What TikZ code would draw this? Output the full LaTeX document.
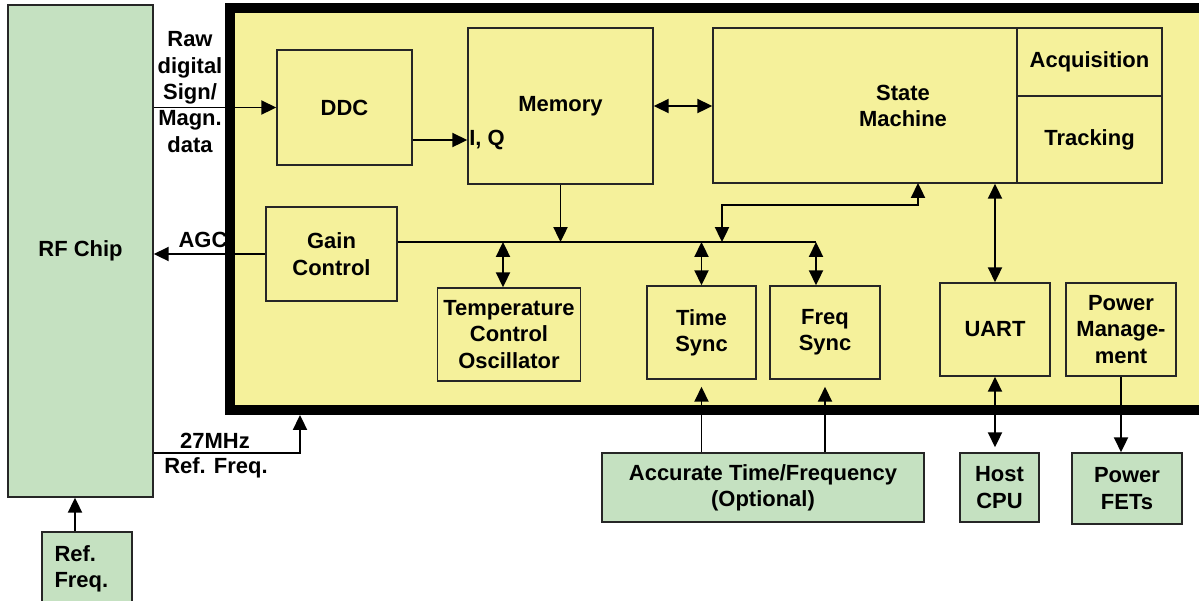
\documentclass[tikz,border=0pt]{standalone}
\usepackage{fontspec}
\setmainfont{Liberation Sans}
\usetikzlibrary{arrows.meta}
\definecolor{chipyellow}{HTML}{F5F19B}
\definecolor{extgreen}{HTML}{C5E1C1}
\tikzstyle{blk} = [rectangle, draw=black!85, line width=0.9pt, fill=chipyellow, align=center, font=\fontsize{12.5}{15}\selectfont\bfseries]
\tikzstyle{ext} = [blk, fill=extgreen]
\tikzstyle{lbl} = [align=center, font=\fontsize{12.5}{15}\selectfont\bfseries, inner sep=1pt]
\tikzstyle{wire} = [line width=1.1pt]
\tikzstyle{arrow} = [wire, -{Triangle[length=8.5pt,width=8pt]}]
\tikzstyle{dblarrow} = [wire, {Triangle[length=8.5pt,width=8pt]}-{Triangle[length=8.5pt,width=8pt]}]
\begin{document}
\begin{tikzpicture}[x=0.02cm, y=-0.02cm]
  \useasboundingbox (0,0) rectangle (1199,600);
  \draw [line width=0.2cm, fill=chipyellow] (230,8) rectangle (1204,410);
  \coordinate (clk) at (300,415);

  \node (rf)[ext, minimum width=2.9cm, minimum height=9.84cm] at (80.5,251) {RF Chip};
  \node (ref)[ext, minimum width=1.8cm, minimum height=1.48cm, text width=1.3cm, align=left] at (87,569) {Ref.\\Freq.};
  \node (ddc)[blk, minimum width=2.7cm, minimum height=2.3cm] at (344.5,107.5) {DDC};
  \node (memory)[blk, minimum width=3.7cm, minimum height=3.12cm] at (560.5,106) {Memory};
  \node (sm)[blk, minimum width=6.08cm, minimum height=3.1cm] at (865,105.5) {};
  \node (smtxt)[lbl] at (903,106) {State\\Machine};
  \node (acq)[blk, minimum width=2.9cm, minimum height=1.36cm] at (1089.5,62) {Acquisition};
  \node (trk)[blk, minimum width=2.9cm, minimum height=1.74cm] at (1089.5,139.5) {Tracking};
  \node (gain)[blk, minimum width=2.62cm, minimum height=1.88cm] at (331.5,254) {Gain\\Control};
  \node (tco)[blk, minimum width=2.84cm, minimum height=1.86cm] at (509,334.5) {Temperature\\Control\\Oscillator};
  \node (tsync)[blk, minimum width=2.18cm, minimum height=1.86cm] at (701.5,332.5) {Time\\Sync};
  \node (fsync)[blk, minimum width=2.2cm, minimum height=1.86cm] at (825,332.5) {Freq\\Sync};
  \node (uart)[blk, minimum width=2.2cm, minimum height=1.86cm] at (995,329.5) {UART};
  \node (pm)[blk, minimum width=2.2cm, minimum height=1.86cm] at (1121,329.5) {Power\\Manage-\\ment};
  \node (host)[ext, minimum width=1.58cm, minimum height=1.38cm] at (999.5,487.5) {Host\\CPU};
  \node (fets)[ext, minimum width=2.2cm, minimum height=1.42cm] at (1127,488.5) {Power\\FETs};
  \node (acc)[ext, minimum width=6.44cm, minimum height=1.38cm] at (763,487.5) {Accurate Time/Frequency\\(Optional)};

  \node (raw)[lbl] at (190,92) {Raw\\digital\\Sign/\\Magn.\\data};
  \node (iq)[lbl, anchor=west] at (memory.west |- 0,140) {I, Q};
  \node (agc)[lbl] at (203,240) {AGC};
  \node (mhz)[lbl] at (215,441) {27MHz};
  \node (rfreq)[lbl] at (216,468) {Ref. Freq.};

  \coordinate (busL) at (gain.east |- 0,242);
  \coordinate (busR) at ([xshift=-0.18cm]fsync.north |- busL);
  \coordinate (busT) at (722,242);
  \coordinate (smT) at (918,183);

  \draw [arrow] (rf.east |- ddc.west) -- (ddc.west);
  \draw [arrow] (ddc.east |- iq) -- (iq.west);
  \draw [dblarrow] (memory.east) -- (memory.east -| sm.west);
  \draw [wire] (busL) -- (busR);
  \draw [arrow] (memory.south) -- (memory.south |- busL);
  \draw [dblarrow] (busT) -- ++(0,-37) -| (smT);
  \draw [dblarrow] ([xshift=-0.12cm]tco.north |- busL) -- ([xshift=-0.12cm]tco.north);
  \draw [dblarrow] (tsync.north |- busL) -- (tsync.north);
  \draw [dblarrow] (busR) -- (busR |- fsync.north);
  \draw [arrow] (gain.west) -- (gain.west -| rf.east);
  \draw [arrow] (rf.east |- 0,453) -| (clk);
  \draw [dblarrow] (uart.north) -- (uart.north |- sm.south);
  \draw [dblarrow, shorten <=0.1cm] (uart.south |- host.north) -- (uart.south);
  \draw [arrow] (pm.south) -- (pm.south |- fets.north);
  \draw [arrow, shorten >=0.14cm] (acc.north -| tsync.south) -- (tsync.south);
  \draw [arrow, shorten >=0.14cm] (acc.north -| fsync.south) -- (fsync.south);
  \draw [arrow] ([xshift=-0.24cm]ref.north) -- ([xshift=-0.24cm]ref.north |- rf.south);
\end{tikzpicture}
\end{document}
